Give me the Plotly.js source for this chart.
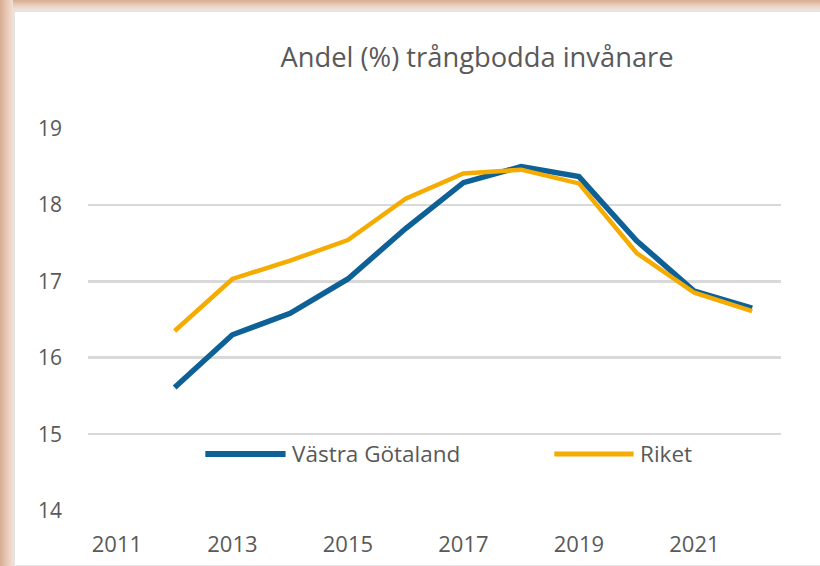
<!DOCTYPE html>
<html>
<head>
<meta charset="utf-8">
<script src="https://cdn.plot.ly/plotly-3.0.1.min.js"></script>
<style>
  html, body { margin: 0; padding: 0; background: #ffffff; }
  #frame {
    position: relative; width: 820px; height: 566px; overflow: hidden;
    background: linear-gradient(to bottom, #d6ab92 0px, #ecd2c2 6px, #f3e2d7 10px, #f3e2d7 100%);
  }
  #leftband {
    position: absolute; left: 0; top: 0; width: 13px; height: 566px;
    background: linear-gradient(to right, #d6ab92 0px, #e6c5b1 6px, #f1ddd0 12px);
  }
  #inner {
    position: absolute; left: 13px; top: 10px; width: 807px; height: 556px;
    background: #ffffff; border-left: 2px solid #e4e4e4; border-top: 2px solid #e4e4e4;
    border-bottom: 1px solid #e8e8e8;
    box-sizing: border-box;
  }
  #chart { position: absolute; left: 0; top: 0; width: 805px; height: 553px; }
</style>
</head>
<body>
<div id="frame">
  <div id="leftband"></div>
  <div id="inner"><div id="chart"></div></div>
</div>
<script>
const years = [2012, 2013, 2014, 2015, 2016, 2017, 2018, 2019, 2020, 2021, 2022];
const vastraGotaland = [15.61, 16.30, 16.58, 17.03, 17.69, 18.29, 18.50, 18.37, 17.53, 16.87, 16.65];
const riket = [16.35, 17.03, 17.27, 17.54, 18.08, 18.41, 18.46, 18.28, 17.37, 16.85, 16.61];
const xTicks = [2011, 2013, 2015, 2017, 2019, 2021];
const yTicks = [14, 15, 16, 17, 18, 19];
const seriesNames = ['Västra Götaland', 'Riket'];
const seriesColors = ['#0e6196', '#f5ab00'];
const titleText = 'Andel (%) trångbodda invånare';

const font = 'Open Sans, sans-serif';
const grey = '#595959';
const lineWidths = [5.5, 4.5];

const traces = [
  { x: years, y: vastraGotaland, name: seriesNames[0], type: 'scatter', mode: 'lines',
    line: { color: seriesColors[0], width: lineWidths[0] } },
  { x: years, y: riket, name: seriesNames[1], type: 'scatter', mode: 'lines',
    line: { color: seriesColors[1], width: lineWidths[1] } }
];

// manual legend (placed inside the plot area, like the original)
const legendPos = [
  { x0: 0.1693, x1: 0.2851, tx: 0.2910 },
  { x0: 0.6729, x1: 0.7873, tx: 0.7935 }
];
const legendY = 0.149;
const shapes = legendPos.map((p, i) => ({
  type: 'line', xref: 'paper', yref: 'paper', x0: p.x0, x1: p.x1, y0: legendY, y1: legendY,
  line: { color: seriesColors[i], width: lineWidths[i] + 0.5 }
}));
const annotations = legendPos.map((p, i) => ({
  xref: 'paper', yref: 'paper', x: p.tx, y: legendY, xanchor: 'left', yanchor: 'middle',
  text: seriesNames[i], showarrow: false, font: { family: font, size: 22.5, color: grey }
}));

const layout = {
  width: 805, height: 553,
  margin: { l: 73, r: 39, t: 116, b: 54 },
  paper_bgcolor: 'rgba(0,0,0,0)', plot_bgcolor: 'rgba(0,0,0,0)',
  font: { family: font, color: grey, size: 22 },
  title: { text: titleText, font: { family: font, size: 27.3, color: grey },
           x: 0.574, xanchor: 'center', y: 0.918, yanchor: 'middle' },
  showlegend: false,
  shapes: shapes,
  annotations: annotations,
  xaxis: { range: [2010.5, 2022.5], tickvals: xTicks, ticktext: xTicks.map(String),
           showgrid: false, zeroline: false, showline: false, ticks: '',
           tickfont: { family: font, size: 22, color: grey }, ticklabelstandoff: 18,
           fixedrange: true },
  yaxis: { range: [13.995, 19.005], tickvals: yTicks, ticktext: yTicks.map(String),
           showgrid: true, gridcolor: '#d9d9d9', gridwidth: 2.5, zeroline: false,
           showline: false, ticks: '', tickfont: { family: font, size: 21, color: grey },
           ticklabelstandoff: 25, fixedrange: true }
};

Plotly.newPlot('chart', traces, layout, { displayModeBar: false, staticPlot: true });
</script>
</body>
</html>
